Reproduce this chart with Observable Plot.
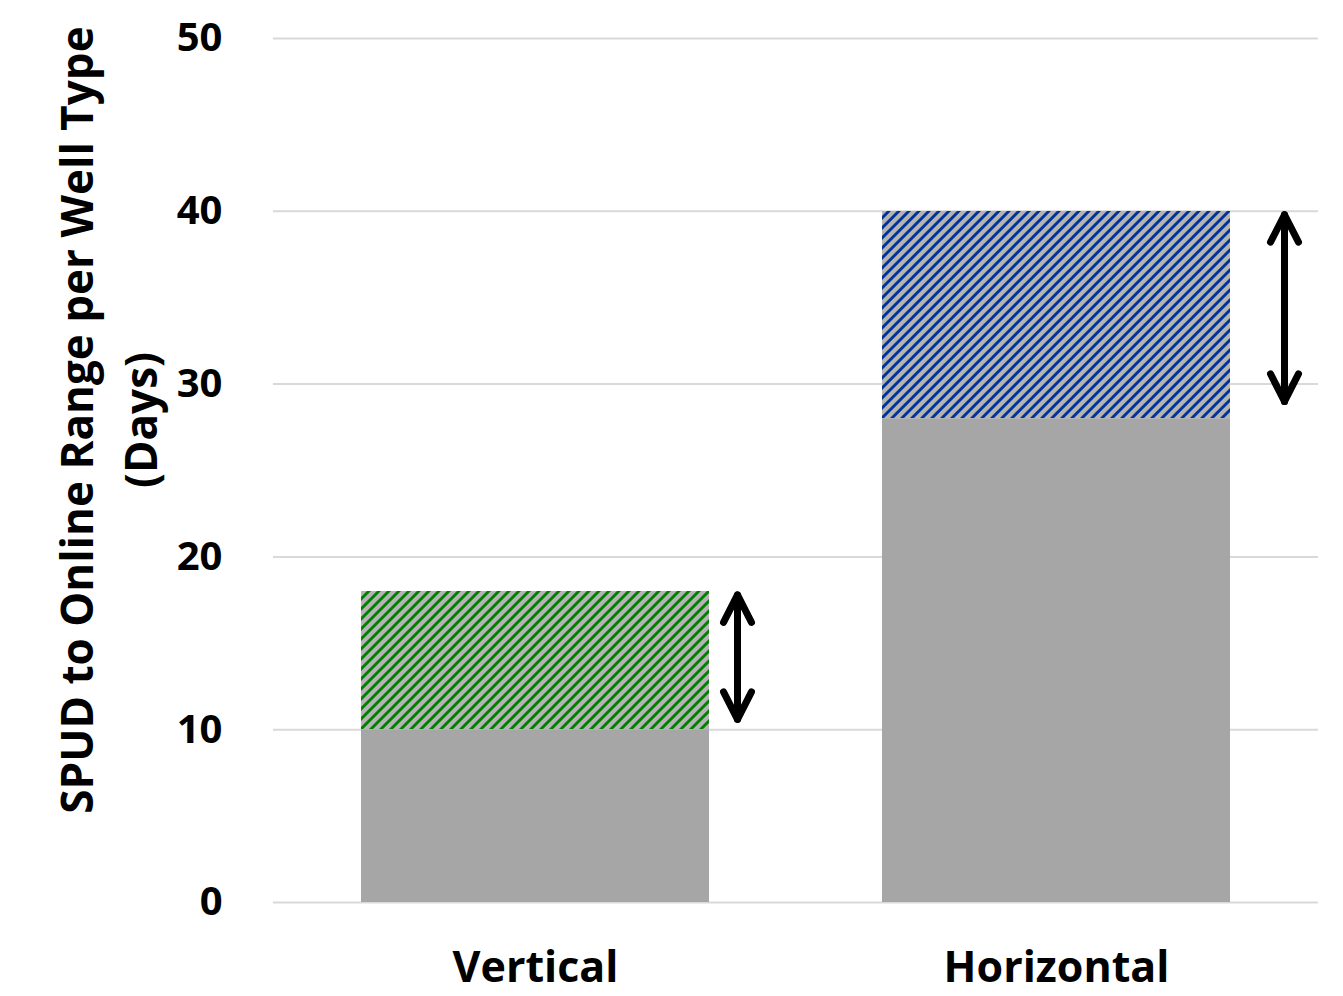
<!DOCTYPE html>
<html>
<head>
<meta charset="utf-8">
<script src="https://cdn.jsdelivr.net/npm/d3@7"></script>
<script src="https://cdn.jsdelivr.net/npm/@observablehq/plot@0.6"></script>
<style>
  html, body { margin: 0; padding: 0; background: #fff; }
  #chart svg { display: block; }
</style>
</head>
<body>
<div id="chart"></div>
<script>
const categories = ["Vertical", "Horizontal"];
const minDays = [10, 28];
const maxDays = [18, 40];
const arrowLow = [10.6, 29];
const arrowHigh = [17.8, 39.8];
const yTicks = [0, 10, 20, 30, 40, 50];
const yLabelLines = ["SPUD to Online Range per Well Type", "(Days)"];

const rows = categories.map((c, i) => ({
  cat: c, min: minDays[i], max: maxDays[i], lo: arrowLow[i], hi: arrowHigh[i]
}));

const FONT = "'Open Sans', sans-serif";

const arrowStyle = {
  stroke: "#000", strokeWidth: 7, headLength: 6.6, headAngle: 54,
  strokeLinecap: "round", strokeLinejoin: "round"
};

const chart = Plot.plot({
  width: 1343,
  height: 996,
  marginLeft: 273,
  marginRight: 25,
  marginTop: 38,
  marginBottom: 94,
  style: { fontFamily: FONT, fontWeight: "bold", color: "#000", background: "#fff" },
  x: { domain: categories, paddingInner: 0.333, paddingOuter: 0.1686, label: null },
  y: { domain: [0, 50], ticks: yTicks, label: null },
  color: { domain: categories, range: ["url(#hatchGreen)", "url(#hatchBlue)"] },
  marks: [
    Plot.ruleY(yTicks, { stroke: "#d9d9d9", strokeWidth: 2 }),
    Plot.barY(rows, { x: "cat", y1: 0, y2: "min", fill: "#a6a6a6" }),
    Plot.barY(rows, { x: "cat", y1: "min", y2: "max", fill: "cat", shapeRendering: "crispEdges" }),
    Plot.arrow(rows.filter(d => d.cat === "Vertical"), { x: "cat", y1: "lo", y2: "hi", dx: 202, ...arrowStyle }),
    Plot.arrow(rows.filter(d => d.cat === "Vertical"), { x: "cat", y1: "hi", y2: "lo", dx: 202, ...arrowStyle }),
    Plot.arrow(rows.filter(d => d.cat === "Horizontal"), { x: "cat", y1: "lo", y2: "hi", dx: 228, ...arrowStyle }),
    Plot.arrow(rows.filter(d => d.cat === "Horizontal"), { x: "cat", y1: "hi", y2: "lo", dx: 228, ...arrowStyle }),
    Plot.axisY({ ticks: yTicks, tickSize: 0, tickPadding: 51, fontSize: 40, fontWeight: "bold", label: null }),
    Plot.axisX({ tickSize: 0, tickPadding: 49, fontSize: 43, fontWeight: "bold", label: null })
  ]
});

const svg = d3.select(chart);
svg.insert("defs", ":first-child").html(`
  <pattern id="hatchGreen" patternUnits="userSpaceOnUse" width="10" height="10">
    <rect width="10" height="10" fill="#b4b4b4"/>
    <path d="M-5,5 L5,-5 M0,10 L10,0 M5,15 L15,5" stroke="#008000" stroke-width="2.9"/>
  </pattern>
  <pattern id="hatchBlue" patternUnits="userSpaceOnUse" width="10" height="10">
    <rect width="10" height="10" fill="#b4b4b4"/>
    <path d="M-5,5 L5,-5 M0,10 L10,0 M5,15 L15,5" stroke="#003399" stroke-width="2.9"/>
  </pattern>
`);

const lx = [93, 157];
yLabelLines.forEach((t, i) => {
  svg.append("text")
    .attr("transform", `translate(${lx[i]},420) rotate(-90)`)
    .attr("text-anchor", "middle")
    .attr("font-family", FONT)
    .attr("font-weight", "bold")
    .attr("font-size", 44)
    .attr("fill", "#000")
    .text(t);
});

document.getElementById("chart").appendChild(chart);
</script>
</body>
</html>
